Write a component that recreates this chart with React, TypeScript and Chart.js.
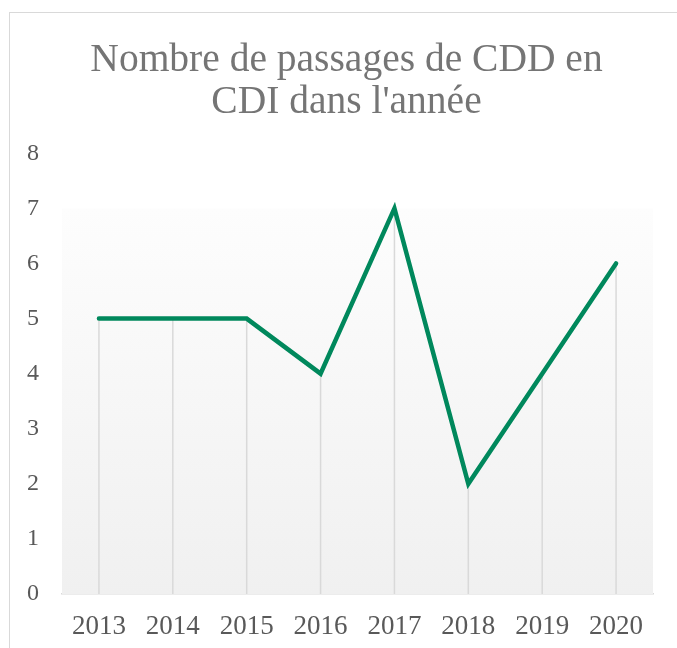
import React, { useEffect, useRef } from "react";
import { Chart, registerables } from "chart.js";

Chart.register(...registerables);

const categories = ["2013", "2014", "2015", "2016", "2017", "2018", "2019", "2020"];
const passages = [5, 5, 5, 4, 7, 2, 4, 6];
const titleLines = ["Nombre de passages de CDD en", "CDI dans l'année"];
const yMin = 0;
const yMax = 8;
const gradientTopValue = 7;

const FONT = "'Liberation Serif', 'Times New Roman', serif";

const backgroundPlugin = {
  id: "plotBackground",
  beforeDatasetsDraw(chart: any) {
    const { ctx, chartArea, scales } = chart;
    const top = scales.y.getPixelForValue(gradientTopValue);
    const bottom = chartArea.bottom;
    const g = ctx.createLinearGradient(0, top, 0, bottom);
    g.addColorStop(0, "#fdfdfd");
    g.addColorStop(1, "#f0f0f0");
    ctx.save();
    ctx.fillStyle = g;
    ctx.fillRect(chartArea.left, top, chartArea.right - chartArea.left, bottom - top);
    // drop lines
    const meta = chart.getDatasetMeta(0);
    ctx.strokeStyle = "#d9d9d9";
    ctx.lineWidth = 1.5;
    meta.data.forEach((pt: any) => {
      ctx.beginPath();
      ctx.moveTo(pt.x, pt.y);
      ctx.lineTo(pt.x, bottom);
      ctx.stroke();
    });
    ctx.restore();
  },
};

export default function App() {
  const ref = useRef<HTMLCanvasElement>(null);
  useEffect(() => {
    if (!ref.current) return;
    const chart = new Chart(ref.current, {
      type: "line",
      data: {
        labels: categories,
        datasets: [
          {
            data: passages,
            borderColor: "#00885c",
            borderWidth: 4.5,
            pointRadius: 0,
            tension: 0,
            borderCapStyle: "round",
            borderJoinStyle: "miter",
            fill: false,
          },
        ],
      },
      options: {
        animation: false,
        responsive: false,
        maintainAspectRatio: false,
        layout: { padding: { left: 30, right: 24, top: 0, bottom: 6 } },
        plugins: {
          legend: { display: false },
          tooltip: { enabled: false },
          title: {
            display: true,
            text: titleLines,
            color: "#757575",
            font: { family: FONT, size: 39.5, weight: "normal", lineHeight: 1.08 },
            padding: { top: 26, bottom: 29 },
          },
        },
        scales: {
          x: {
            offset: true,
            grid: { display: false, drawTicks: false },
            border: { display: true, color: "#d9d9d9", width: 1.5 },
            ticks: {
              color: "#595959",
              font: { family: FONT, size: 27 },
              padding: 17,
              maxRotation: 0,
            },
            afterFit(scale: any) {
              scale.height = 48;
            },
          },
          y: {
            min: yMin,
            max: yMax,
            grid: { display: false, drawTicks: false },
            border: { display: false },
            ticks: {
              stepSize: 1,
              color: "#595959",
              font: { family: FONT, size: 24 },
              mirror: true,
              crossAlign: "near",
              padding: -35,
            },
            afterFit(scale: any) {
              scale.width = 22;
            },
          },
        },
      },
      plugins: [backgroundPlugin],
    });
    return () => chart.destroy();
  }, []);

  return (
    <div
      style={{
        position: "absolute",
        left: 9,
        top: 12,
        width: 668,
        height: 636,
        borderLeft: "1px solid #d9d9d9",
        borderTop: "1px solid #d9d9d9",
        background: "#ffffff",
      }}
    >
      <canvas ref={ref} width={667} height={635} style={{ display: "block" }} />
    </div>
  );
}
